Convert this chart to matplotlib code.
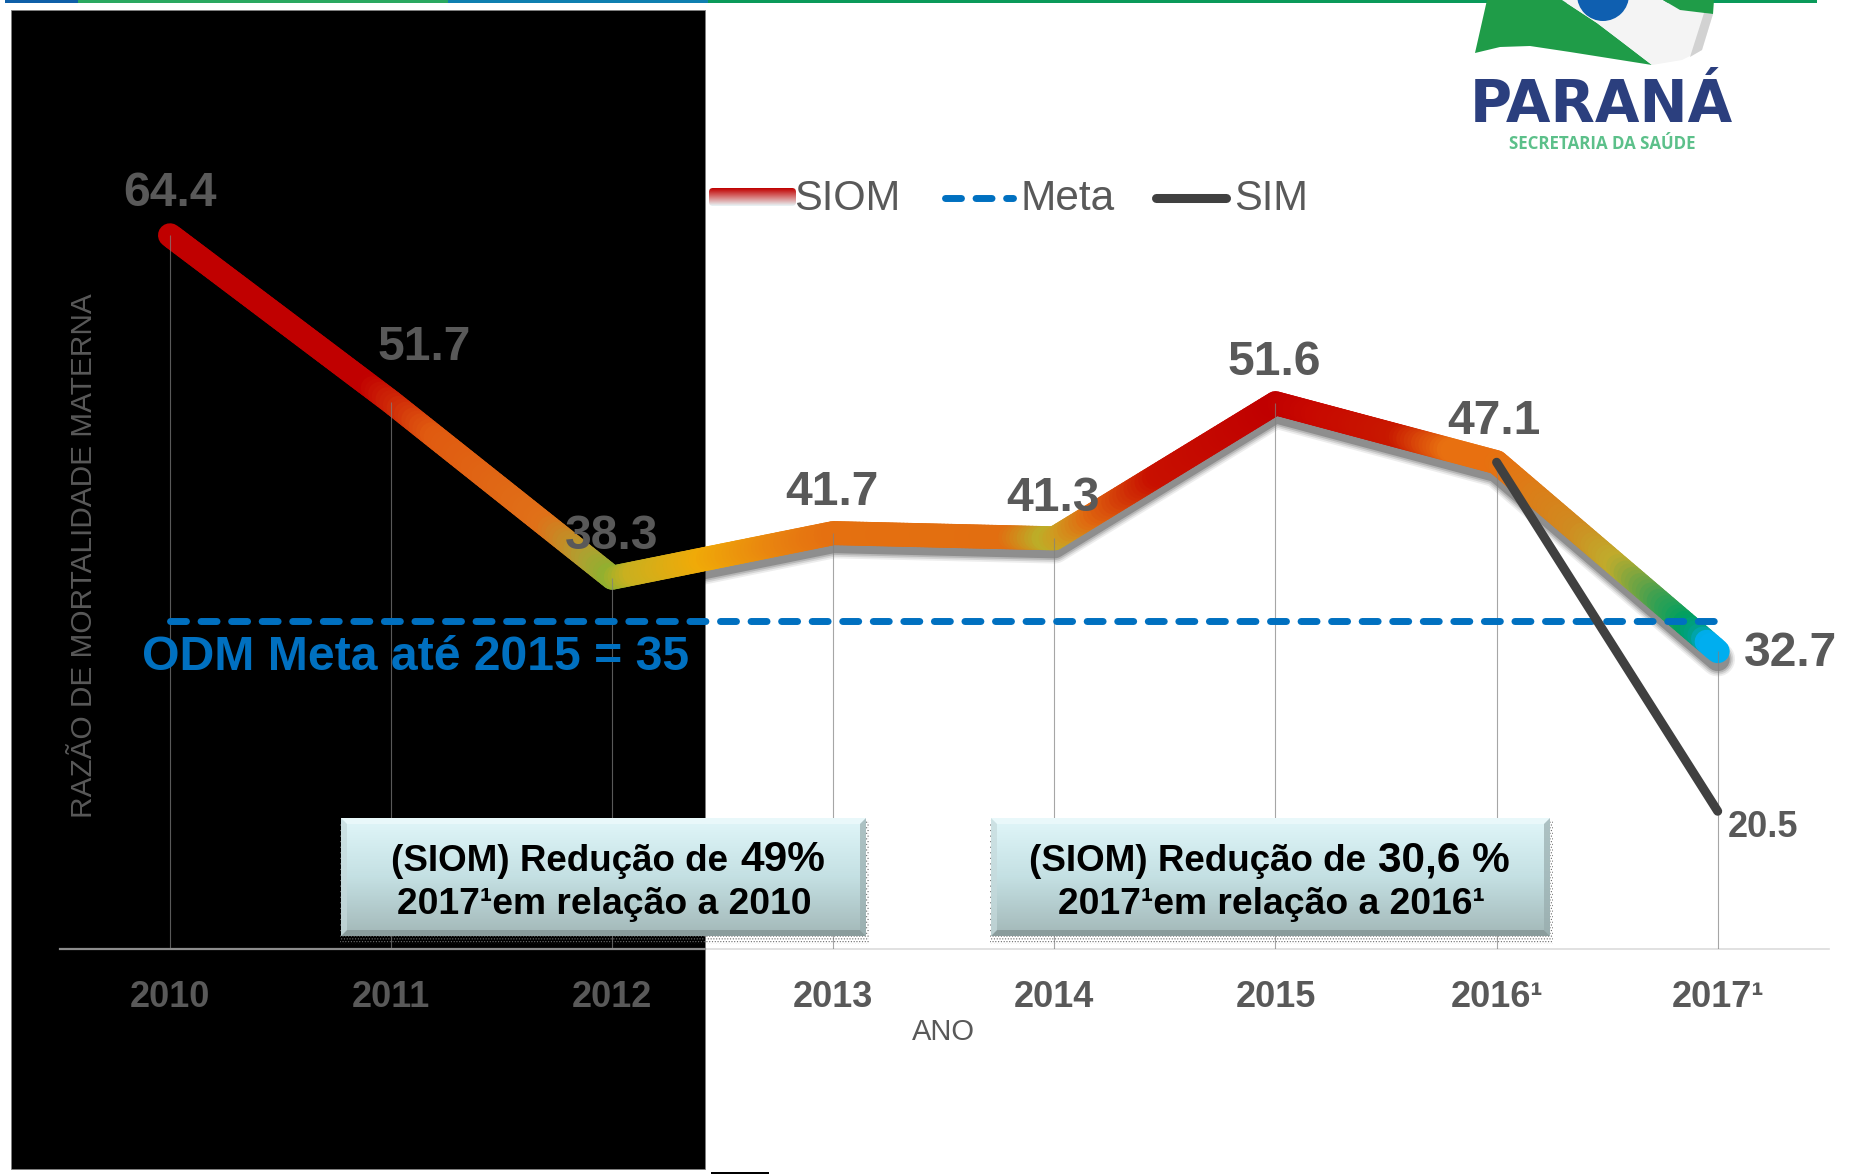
import numpy as np
import matplotlib
matplotlib.use('Agg')
import matplotlib.pyplot as plt
from matplotlib.collections import LineCollection
from matplotlib.colors import LinearSegmentedColormap, Normalize
from matplotlib.patches import Polygon, Rectangle, Circle, FancyBboxPatch

plt.rcParams['font.family'] = ['Liberation Sans', 'DejaVu Sans']
plt.rcParams['hatch.linewidth'] = 0.5

# data
years = ['2010', '2011', '2012', '2013', '2014', '2015', '2016¹', '2017¹']
siom = [64.4, 51.7, 38.3, 41.7, 41.3, 51.6, 47.1, 32.7]
sim = [np.nan, np.nan, np.nan, np.nan, np.nan, np.nan, 47.1, 20.5]
meta = [35, 35, 35, 35, 35, 35, 35, 35]

# label offsets in pixels from the point
siom_dx = [0, 33, -1, -1, -1, -1, -3, 73]
siom_dy = [42, 54, 41, 41, 40, 41, 41, -2]

W, H = 1864, 1174
GREY = '#595959'
BLUE = '#0070c0'

fig = plt.figure(figsize=(W/100, H/100), dpi=100, facecolor='white')

# pixel axes behind the chart: black block, top strip, logo
back = fig.add_axes([0, 0, 1, 1], zorder=0)
back.set_xlim(0, W)
back.set_ylim(H, 0)
back.axis('off')
back.add_patch(Rectangle((11, 10), 694, 1159, fc='black', ec='#808080', lw=0.6))
back.add_patch(Rectangle((711, 1172), 58, 2, fc='black', ec='none'))
back.add_patch(Rectangle((5, 0), 73, 3, fc='#0f5fa8', ec='none'))
back.add_patch(Rectangle((78, 0), 370, 3, fc='#2aa860', ec='none'))
back.add_patch(Rectangle((448, 0), 260, 3, fc='#0f7fb0', ec='none'))
back.add_patch(Rectangle((708, 0), 1109, 3, fc='#0a9a5a', ec='none'))

# logo
back.add_patch(Polygon([(1487, 0), (1475, 53), (1500, 47), (1530, 46), (1570, 52), (1652, 65),
                        (1622, 42), (1597, 23), (1562, 0)], fc='#1f9c48', ec='none'))
back.add_patch(Polygon([(1562, 0), (1597, 23), (1622, 42), (1652, 65), (1682, 60), (1702, 50),
                        (1713, 14), (1680, 10), (1663, 0)], fc='#f4f4f4', ec='none'))
back.add_patch(Polygon([(1690, 57), (1702, 50), (1713, 14), (1704, 13)], fc='#d2d2d2', ec='none'))
back.add_patch(Polygon([(1663, 0), (1680, 10), (1713, 14), (1714, 0)], fc='#1f9c48', ec='none'))
back.add_patch(Circle((1603, -5), 26, fc='#0f5fb0', ec='none'))
back.text(1601, 122, 'PARANÁ', color='#2b3f7e', fontsize=41.5, fontweight='bold', ha='center',
          va='baseline', family='DejaVu Sans')
back.text(1602, 144, 'SECRETARIA DA SAÚDE', color='#5cc08a', fontsize=12.2, fontweight='bold',
          ha='center', va='center', family='Open Sans')

# chart axes: bottom at pixel 949, value 10 on the baseline
ax = fig.add_axes([60/W, 1-949/H, (1829-60)/W, 949/H], zorder=1)
ax.patch.set_alpha(0)
x = np.arange(len(years))
step = 221.1
ax.set_xlim((60-170)/step, (1829-170)/step)
ax.set_ylim(10, 10 + 949/13.12)
for s in ['top', 'left', 'right']:
    ax.spines[s].set_visible(False)
ax.spines['bottom'].set_color('#dcdcdc')
ax.spines['bottom'].set_linewidth(1.2)
ax.set_yticks([])
ax.set_xticks(x)
ax.set_xticklabels(years, fontsize=26, fontweight='bold', color=GREY)
ax.tick_params(axis='x', length=0, pad=22)

# shadow of the SIOM line, only shows on white
for lw, a in zip([25, 22.5, 20, 17.5], [0.07, 0.10, 0.14, 0.22]):
    ax.plot(x, np.array(siom) - 0.6, color='black', lw=lw, alpha=a, solid_capstyle='round',
            solid_joinstyle='round', zorder=1)

# SIOM line colours along the x axis, each stretch cut in pieces for the gradient
stops = [(0, '#c00000'), (0.9, '#c00000'), (1.2, '#e05a10'), (1.7, '#e07018'), (1.9, '#b0a030'),
         (2.0, '#90b030'), (2.1, '#c8b020'), (2.42, '#f0aa08'), (2.8, '#e88010'), (3.0, '#e57010'),
         (3.8, '#e26e10'), (3.97, '#bcae28'), (4.05, '#d09a20'), (4.18, '#e06a10'), (4.47, '#c81000'),
         (5.0, '#c00000'), (5.2, '#c80800'), (5.56, '#c81800'), (5.8, '#e87010'), (6.0, '#e87010'),
         (6.37, '#d08a20'), (6.55, '#c0ac2c'), (6.75, '#40a050'), (6.87, '#00a060'), (6.94, '#00a090'),
         (6.96, '#00aeef'), (7, '#00aeef')]
cmap = LinearSegmentedColormap.from_list('siom', [(v/7, c) for v, c in stops], N=1024)
pieces = []
vals = []
for i in range(len(x)-1):
    tt = np.linspace(0, 1, 61)
    xs = x[i] + (x[i+1]-x[i])*tt
    ys = siom[i] + (siom[i+1]-siom[i])*tt
    for j in range(60):
        pieces.append([(xs[j], ys[j]), (xs[j+1], ys[j+1])])
        vals.append((xs[j]+xs[j+1])/2)
lc = LineCollection(pieces, cmap=cmap, norm=Normalize(0, 7), linewidths=17.3, capstyle='round', zorder=2)
lc.set_array(np.array(vals))
ax.add_collection(lc)

ax.vlines(x, 10, siom, color='#808080', alpha=0.7, lw=0.8, zorder=3)
ax.plot(x, meta, color=BLUE, lw=5, linestyle=(0, (2.3, 2.1)), dash_capstyle='round', zorder=4)
ax.plot(x, sim, color='#404040', lw=6.5, solid_capstyle='round', zorder=5)

for i in range(len(x)):
    ax.annotate(f'{siom[i]}', (x[i], siom[i]), xytext=(siom_dx[i], siom_dy[i]), textcoords='offset pixels',
                ha='center', va='center', fontsize=34.6, fontweight='bold', color=GREY, zorder=6)
ax.annotate(f'{sim[7]}', (x[7], sim[7]), xytext=(45, -16), textcoords='offset pixels',
            ha='center', va='center', fontsize=26, fontweight='bold', color=GREY, zorder=6)

# pixel axes on top: legend, axis names, boxes
top = fig.add_axes([0, 0, 1, 1], zorder=2)
top.patch.set_alpha(0)
top.set_xlim(0, W)
top.set_ylim(H, 0)
top.set_autoscale_on(False)
top.axis('off')

top.plot([60, 705], [949, 949], color='#8c8c8c', lw=1.6, zorder=1)
top.text(943, 1032, 'ANO', fontsize=21, color=GREY, ha='center', va='center')
top.text(84, 556, 'RAZÃO DE MORTALIDADE MATERNA', fontsize=21.4, color=GREY, rotation=90, ha='center', va='center')
top.text(416, 657, 'ODM Meta até 2015 = 35', fontsize=34.7, fontweight='bold', color=BLUE, ha='center', va='center')

# legend
fade = LinearSegmentedColormap.from_list('fade', ['#c00000', '#d87878', '#e8f4f6'])
im = top.imshow(np.linspace(0, 1, 40).reshape(-1, 1), cmap=fade, extent=(709, 796, 206, 188), aspect='auto', zorder=3)
clip = FancyBboxPatch((713, 192), 79, 10, boxstyle='round,pad=4', transform=top.transData, fc='none', ec='none')
top.add_patch(clip)
im.set_clip_path(clip)
top.text(794, 199, 'SIOM', fontsize=30, color=GREY, ha='left', va='center')
top.plot([945, 1013], [198, 198], color=BLUE, lw=5, linestyle=(0, (2.3, 2.1)), dash_capstyle='round')
top.text(1020, 199, 'Meta', fontsize=30.5, color=GREY, ha='left', va='center')
top.plot([1156, 1226], [198, 198], color='#404040', lw=6.5, solid_capstyle='round')
top.text(1234, 199, 'SIM', fontsize=30, color=GREY, ha='left', va='center')

shade = LinearSegmentedColormap.from_list('box', ['#e0f6f9', '#c4e0e3', '#a3b8b8'])


def box(x0, x1, y0, y1, line1, big, line2, x_text1, x_text2):
    top.add_patch(Rectangle((x0-1, y0+2), x1-x0+4, y1-y0+6, fc='none', ec='#6e6e6e', hatch='......', lw=0, zorder=2))
    top.imshow(np.linspace(0, 1, 60).reshape(-1, 1), cmap=shade, extent=(x0, x1, y1, y0), aspect='auto', zorder=3)
    b = 6
    top.add_patch(Polygon([(x0, y0), (x1, y0), (x1-b, y0+b), (x0+b, y0+b)], fc='#e9f8fa', ec='none', zorder=4))
    top.add_patch(Polygon([(x0, y1), (x1, y1), (x1-b, y1-b), (x0+b, y1-b)], fc='#8a9c9c', ec='none', zorder=4))
    top.add_patch(Polygon([(x0, y0), (x0+b, y0+b), (x0+b, y1-b), (x0, y1)], fc='#c6dadc', alpha=0.7, ec='none', zorder=4))
    top.add_patch(Polygon([(x1, y0), (x1-b, y0+b), (x1-b, y1-b), (x1, y1)], fc='#98acad', alpha=0.7, ec='none', zorder=4))
    t = top.text(x_text1, y0+53, line1, fontsize=26.5, fontweight='bold', color='black', va='baseline', zorder=5)
    fig.canvas.draw()
    pos = top.transData.inverted().transform(t.get_window_extent().get_points())[1, 0]
    top.text(pos+12, y0+53, big, fontsize=30.5, fontweight='bold', color='black', va='baseline', zorder=5)
    top.text(x_text2, y0+96, line2, fontsize=26.8, fontweight='bold', color='black', va='baseline', zorder=5)


box(341, 866, 818, 936, '(SIOM) Redução de', '49%', '2017¹em relação a 2010', 391, 397)
box(991, 1550, 818, 936, '(SIOM) Redução de', '30,6 %', '2017¹em relação a 2016¹', 1029, 1058)

fig.savefig('out.png', dpi=100)
